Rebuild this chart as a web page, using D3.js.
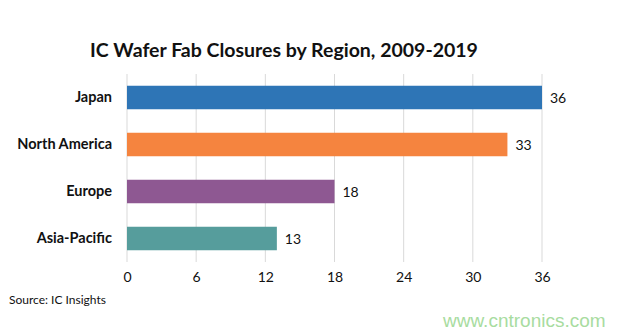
<!DOCTYPE html>
<html><head><meta charset="utf-8">
<script src="https://cdn.jsdelivr.net/npm/d3@7"></script>
<style>body{margin:0;background:#fff}svg{display:block}</style>
</head><body><svg id="c" width="628" height="331"></svg>
<script>
const categories = ["Japan", "North America", "Europe", "Asia-Pacific"];
const values = [36, 33, 18, 13];
const colors = ["#2E75B6", "#F5843F", "#8E5892", "#569D9C"];
const ticks = [0, 6, 12, 18, 24, 30, 36];
const title = "IC Wafer Fab Closures by Region, 2009-2019";
const source = "Source: IC Insights";
const watermark = "www.cntronics.com";

const svg = d3.select("#c");
const font = "Lato, 'Open Sans', sans-serif";
const x = d3.scaleLinear().domain([0, 36]).range([127, 542]);
const y = d3.scaleBand().domain(categories).range([74, 262]).paddingInner(0.5).paddingOuter(0.25);

svg.append("text").attr("x", 284).attr("y", 57).attr("text-anchor", "middle")
  .attr("font-family", font).attr("font-weight", "bold").attr("font-size", 19.5)
  .attr("fill", "#111").text(title);

// grid
svg.append("g").selectAll("line").data(ticks).join("line")
  .attr("x1", d => x(d)).attr("x2", d => x(d)).attr("y1", 74).attr("y2", 262)
  .attr("stroke", "#d9d9d9").attr("stroke-width", 1);

const xAxis = d3.axisBottom(x).tickValues(ticks).tickSize(0).tickPadding(0);
const gx = svg.append("g").attr("transform", "translate(0,262)").call(xAxis);
gx.select(".domain").remove();
gx.selectAll("text").attr("font-family", font).attr("font-size", 14).attr("fill", "#111").attr("dy", "1.45em");

// bars
svg.append("g").selectAll("rect").data(categories).join("rect")
  .attr("x", x(0)).attr("y", d => y(d)).attr("height", y.bandwidth())
  .attr("width", (d, i) => x(values[i]) - x(0)).attr("fill", (d, i) => colors[i]);

// value labels
svg.append("g").selectAll("text").data(categories).join("text")
  .attr("x", (d, i) => x(values[i]) + 8).attr("y", d => y(d) + y.bandwidth() / 2)
  .attr("dy", "0.36em").attr("font-family", font).attr("font-size", 14).attr("fill", "#111")
  .text((d, i) => values[i]);

// y axis
const yAxis = d3.axisLeft(y).tickSize(0).tickPadding(15);
const gy = svg.append("g").attr("transform", `translate(${x(0)},0)`).call(yAxis);
gy.select(".domain").remove();
gy.selectAll("text").attr("font-family", font).attr("font-weight", "bold").attr("font-size", 14.5).attr("fill", "#111");

svg.append("text").attr("x", 9).attr("y", 304).attr("font-family", font).attr("font-size", 12)
  .attr("fill", "#111").text(source);
svg.append("text").attr("x", 443).attr("y", 327).attr("font-family", "'Liberation Sans', Arial, sans-serif")
  .attr("font-size", 19).attr("fill", "#a8dca0").text(watermark);
</script></body></html>
